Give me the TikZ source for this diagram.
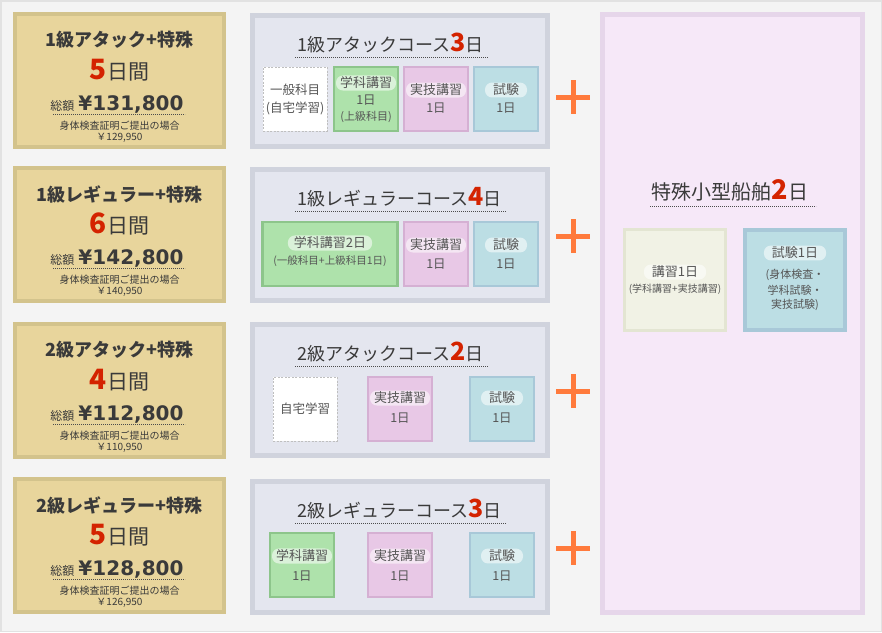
\documentclass[tikz,border=0pt]{standalone}
\usepackage{fontspec}
\setmainfont{Noto Sans CJK JP}
\newfontfamily\pricefont{DejaVu Sans}
\definecolor{bg}{HTML}{F4F4F4}
\definecolor{bgline}{HTML}{E2E2E2}
\definecolor{tanF}{HTML}{E8D59C}
\definecolor{tanD}{HTML}{D3C38C}
\definecolor{crsF}{HTML}{E4E6EF}
\definecolor{crsD}{HTML}{D0D3DD}
\definecolor{grnF}{HTML}{AEE2AB}
\definecolor{grnD}{HTML}{8DC58B}
\definecolor{pnkF}{HTML}{E8C8E6}
\definecolor{pnkD}{HTML}{D5B0D3}
\definecolor{bluF}{HTML}{BCDEE4}
\definecolor{bluD}{HTML}{A8C8D8}
\definecolor{rgtF}{HTML}{F6E8F8}
\definecolor{rgtD}{HTML}{E6D6EA}
\definecolor{kyoF}{HTML}{F1F2E5}
\definecolor{kyoD}{HTML}{E3E5D2}
\definecolor{redD}{HTML}{D42300}
\definecolor{txt}{HTML}{3A3A3A}
\definecolor{subt}{HTML}{555555}
\definecolor{plusc}{HTML}{FF7A3C}
\newcommand\myfs[1]{\fontsize{#1pt}{#1pt}\selectfont}
\tikzset{
  tanbox/.style={draw=tanD, fill=tanF, line width=4pt, minimum width=209pt, minimum height=133pt, inner sep=0pt},
  crsbox/.style={draw=crsD, fill=crsF, line width=5pt, minimum width=295pt, minimum height=131pt, inner sep=0pt},
  subbox/.style={line width=2.5pt, minimum width=64pt, minimum height=64pt, inner sep=0pt},
  grnbox/.style={subbox, draw=grnD, fill=grnF},
  pnkbox/.style={subbox, draw=pnkD, fill=pnkF},
  blubox/.style={subbox, draw=bluD, fill=bluF},
  whtbox/.style={subbox, line width=0.8pt, draw=black!25, fill=white, dash pattern=on 2pt off 1.5pt},
  ttl/.style={text=txt, inner sep=0pt, font=\myfs{18}\bfseries},
  ctl/.style={text=txt, inner sep=0pt, font=\myfs{18}},
  txtn/.style={text=txt, inner sep=0pt},
  sl/.style={text=subt, inner sep=0pt, font=\myfs{12.5}},
  pill/.style={fill=white, fill opacity=0.55, text opacity=1, rounded corners=7pt, inner xsep=4pt, inner ysep=1.5pt, text=subt, font=\myfs{13}},
  dotline/.style={draw=black!70, line width=0.8pt, dash pattern=on 0.8pt off 1.2pt},
  plusst/.style={draw=plusc, line width=5pt},
}
\newcommand\pricebox[6]{%
  \node[tanbox] (#1) at (119.5,{#2+68.5}) {};
  \node[ttl] (#1-t) at (119.5,{#2+28}) {#3};
  \node[txtn] (#1-d) at (119.5,{#2+58}) {{\color{redD}\myfs{28}\bfseries #4}\myfs{21}日間};
  \node[txtn, anchor=base] (#1-p) at (117,{#2+98}) {\myfs{12}総額\hspace{4pt}{\pricefont\myfs{20}\bfseries ¥#5}};
  \draw[dotline] (53,{#2+102}) -- (185,{#2+102});
  \node[txtn] (#1-n) at (119.5,{#2+114}) {\myfs{10}身体検査証明ご提出の場合};
  \node[txtn] (#1-y) at (119.5,{#2+126}) {\myfs{10}￥#6};
}
\newcommand\coursebox[4]{%
  \node[crsbox] (#1) at (400,{#2+68}) {};
  \node[ctl, anchor=west] (#1-t) at (297,{#2+30}) {#3{\color{redD}\myfs{25}\bfseries #4}日};
  \draw[dotline] ([yshift=-14pt,xshift=-2pt]#1-t.west) -- ([yshift=-14pt,xshift=5pt]#1-t.east);
}
\newcommand\plusmark[2]{%
  \draw[plusst] (556,#2) -- (590,#2);
  \draw[plusst] (573,{#2-17}) -- (573,{#2+17});
}
\begin{document}
\begin{tikzpicture}[x=1pt,y=-1pt]
\useasboundingbox (0,0) rectangle (882,632);
\fill[bg] (0,0) rectangle (882,632);
\draw[bgline, line width=1.5pt] (0.75,0.75) rectangle (881.25,631.25);

% left price boxes
\pricebox{p1}{12}{1級アタック+特殊}{5}{131,800}{129,950}
\pricebox{p2}{166}{1級レギュラー+特殊}{6}{142,800}{140,950}
\pricebox{p3}{322}{2級アタック+特殊}{4}{112,800}{110,950}
\pricebox{p4}{477}{2級レギュラー+特殊}{5}{128,800}{126,950}

% course boxes
\coursebox{c1}{13}{1級アタックコース}{3}
\coursebox{c2}{167}{1級レギュラーコース}{4}
\coursebox{c3}{322}{2級アタックコース}{2}
\coursebox{c4}{479}{2級レギュラーコース}{3}

% row 1 sub boxes
\node[whtbox] (c1-w) at (295,99) {};
\node[sl] (c1-w1) at (295,90) {一般科目};
\node[sl] (c1-w2) at (295,108) {(自宅学習)};
\node[grnbox] (c1-g) at (366,99) {};
\node[pill] (c1-g1) at (366,83) {学科講習};
\node[sl] (c1-g2) at (366,100) {1日};
\node[sl, font=\myfs{11}] (c1-g3) at (366,117) {(上級科目)};
\node[pnkbox] (c1-p) at (436,99) {};
\node[pill] (c1-p1) at (436,90) {実技講習};
\node[sl] (c1-p2) at (436,108) {1日};
\node[blubox] (c1-b) at (506,99) {};
\node[pill, inner xsep=8pt] (c1-b1) at (506,90) {試験};
\node[sl] (c1-b2) at (506,108) {1日};

% row 2 sub boxes
\node[grnbox, minimum width=135pt] (c2-g) at (330,254) {};
\node[pill, inner xsep=6pt] (c2-g1) at (330,243) {学科講習2日};
\node[sl, font=\myfs{10.5}] (c2-g2) at (330,261) {(一般科目+上級科目1日)};
\node[pnkbox] (c2-p) at (436,254) {};
\node[pill] (c2-p1) at (436,245) {実技講習};
\node[sl] (c2-p2) at (436,264) {1日};
\node[blubox] (c2-b) at (506,254) {};
\node[pill, inner xsep=8pt] (c2-b1) at (506,245) {試験};
\node[sl] (c2-b2) at (506,264) {1日};

% row 3 sub boxes
\node[whtbox] (c3-w) at (305,409) {};
\node[sl] (c3-w1) at (305,409) {自宅学習};
\node[pnkbox] (c3-p) at (400,409) {};
\node[pill] (c3-p1) at (400,398) {実技講習};
\node[sl] (c3-p2) at (400,418) {1日};
\node[blubox] (c3-b) at (502,409) {};
\node[pill, inner xsep=8pt] (c3-b1) at (502,398) {試験};
\node[sl] (c3-b2) at (502,418) {1日};

% row 4 sub boxes
\node[grnbox] (c4-g) at (302,565) {};
\node[pill] (c4-g1) at (302,556) {学科講習};
\node[sl] (c4-g2) at (302,576) {1日};
\node[pnkbox] (c4-p) at (400,565) {};
\node[pill] (c4-p1) at (400,556) {実技講習};
\node[sl] (c4-p2) at (400,576) {1日};
\node[blubox] (c4-b) at (502,565) {};
\node[pill, inner xsep=8pt] (c4-b1) at (502,556) {試験};
\node[sl] (c4-b2) at (502,576) {1日};

% plus signs
\plusmark{pl1}{97}
\plusmark{pl2}{236}
\plusmark{pl3}{391}
\plusmark{pl4}{548}

% right special box
\node[draw=rgtD, fill=rgtF, line width=5pt, minimum width=260pt, minimum height=598pt, inner sep=0pt] (sp) at (732.5,313.5) {};
\node[txtn, font=\myfs{20}] (sp-t) at (730,190) {特殊小型船舶{\color{redD}\myfs{27}\bfseries 2}日};
\draw[dotline] (650,206) -- (816,206);
\node[draw=kyoD, fill=kyoF, line width=3pt, minimum width=101pt, minimum height=101pt, inner sep=0pt] (sp-k) at (675,280) {};
\node[pill, inner xsep=8pt] (sp-k1) at (675,272) {講習1日};
\node[sl, font=\myfs{10}] (sp-k2) at (675,289) {(学科講習+実技講習)};
\node[draw=bluD, fill=bluF, line width=4pt, minimum width=100pt, minimum height=100pt, inner sep=0pt] (sp-s) at (795,280) {};
\node[pill, inner xsep=8pt] (sp-s1) at (795,253) {試験1日};
\node[sl, font=\myfs{11}, align=center] (sp-s2) at (795,290) {(身体検査・\\[3pt]学科試験・\\[3pt]実技試験)};
\end{tikzpicture}
\end{document}
